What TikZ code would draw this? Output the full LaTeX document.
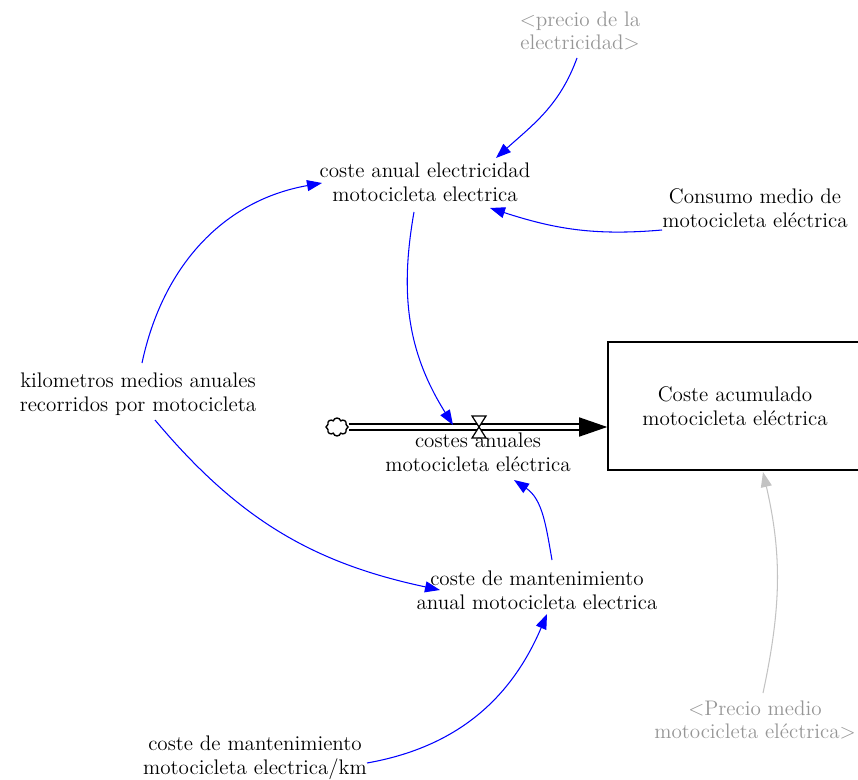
\documentclass[tikz,border=0pt]{standalone}
\usetikzlibrary{arrows.meta,calc,shapes.symbols}
\definecolor{linkblue}{RGB}{0,0,255}
\definecolor{shadowgray}{RGB}{150,150,150}
\definecolor{linkgray}{RGB}{195,195,195}
\begin{document}
\begin{tikzpicture}[x=0.02cm,y=0.02cm,
		var/.style={align=center, inner sep=1pt, font=\fontsize{12}{13.6}\selectfont},
		shadow/.style={var, text=shadowgray},
		stock/.style={var, draw, line width=0.9pt, minimum width=5.08cm, minimum height=2.56cm},
		link/.style={linkblue, line width=0.6pt, -{Triangle[length=3mm,width=2.2mm]}},
		glink/.style={link, linkgray},
		pipe/.style={double, double distance=2.6pt, line width=0.85pt, -{Triangle[length=5.6mm,width=3.8mm]}}]
			\useasboundingbox (0,0) rectangle (858,-780);
			\clip (0,0) rectangle (858,-780);
			\node[shadow] (precio) at (580,-31) {\textless precio de la\\electricidad\textgreater};
			\node[var] (anual) at (425,-182) {coste anual electricidad\\motocicleta electrica};
			\node[var] (consumo) at (755,-208) {Consumo medio de\\motocicleta eléctrica};
			\node[var] (km) at (138,-394) {kilometros medios anuales\\recorridos por motocicleta};
			\node[stock] (stock) at (735,-406) {Coste acumulado\\motocicleta eléctrica};
			\node[cloud, draw, cloud puffs=8, line width=0.8pt, minimum width=0.44cm, minimum height=0.36cm, inner sep=0pt] (fuente) at (337,-427) {};
			\coordinate (valve) at (479,-427);
			\draw[pipe] (fuente.east) -- (stock.west |- fuente);
			\draw[fill=white, line width=0.7pt] ($(valve)+(-7,11)$) -- ($(valve)+(7,11)$) -- ($(valve)+(-7,-11)$) -- ($(valve)+(7,-11)$) -- cycle;
			\node[var] (flujo) at (478,-452) {costes anuales\\motocicleta eléctrica};
			\node[var] (mant) at (537,-590) {coste de mantenimiento\\anual motocicleta electrica};
			\node[var] (mantkm) at (255,-758) {coste de mantenimiento\\motocicleta electrica/km};
			\node[shadow] (preciomoto) at (755,-720) {\textless Precio medio\\motocicleta eléctrica\textgreater};
			\draw[link] ($(precio)+(-3,-27)$) to[out=250,in=42] ($(anual)+(71,24)$);
			\draw[link] ($(consumo)+(-93,-22)$) to[out=185,in=-18] ($(anual)+(65,-26)$);
			\draw[link] ($(km)+(4,31)$) to[out=78,in=190] ($(anual)+(-103,-1)$);
			\draw[link] ($(km)+(17,-26)$) to[out=-50,in=168] ($(mant)+(-97,0)$);
			\draw[link] ($(anual)+(-11,-30)$) to[out=260,in=122] ($(valve)+(-26,2)$);
			\draw[link] ($(mant)+(15,30)$) to[out=100,in=-34] ($(flujo)+(36,-28)$);
			\draw[link] ($(mantkm)+(112,-5)$) to[out=10,in=247] ($(mant)+(10,-24)$);
			\draw[glink] ($(preciomoto)+(8,27)$) to[out=78,in=-77] ($(stock)+(28,-66)$);
		\end{tikzpicture}
\end{document}
